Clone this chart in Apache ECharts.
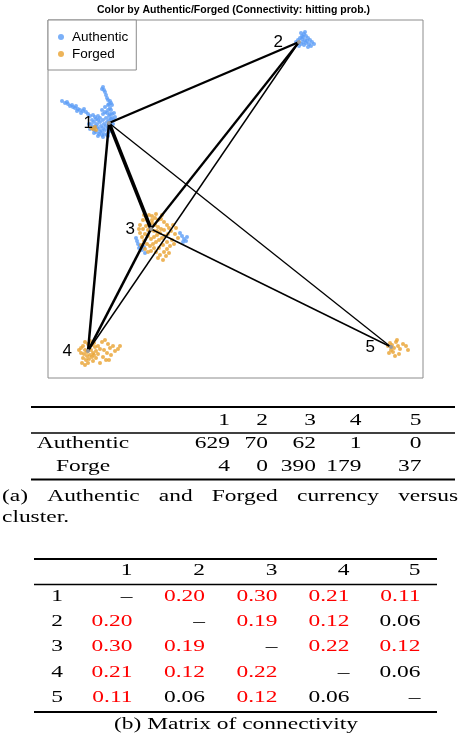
<!DOCTYPE html>
<html>
<head>
<meta charset="utf-8">
<script src="https://cdn.jsdelivr.net/npm/echarts@6/dist/echarts.min.js"></script>
<style>
html,body{margin:0;padding:0;background:#fff;}
#chart{width:461px;height:740px;}
</style>
</head>
<body>
<div id="chart"></div>
<script>
// 数据
var titleText = 'Color by Authentic/Forged (Connectivity: hitting prob.)';
var clusterNames = ['1','2','3','4','5'];
var clusterCenters = [[61,103],[251,22],[103,209],[40,331],[343,327]];
var authenticPts = [
	// cluster 1
	[14,81],[17,83],[20,84],[22,86],[25,87],[27,88],[24,85],[30,89],[32,90],[35,91],[38,92],[40,94],[19,82],[28,86],[33,93],[36,89],[42,96],[29,91],
	[55,67],[56,70],[57,72],[58,75],[59,78],[60,80],[54,69],[62,81],[63,83],[64,85],[61,84],
	[45,95],[47,97],[50,96],[52,98],[55,94],[57,92],[60,90],[62,88],[64,94],[63,90],[66,93],[67,97],[66,100],[65,104],[63,108],[62,111],
	[60,113],[56,114],[54,115],[51,114],[48,112],[46,110],[44,107],[43,104],[44,100],[46,102],[49,104],[52,102],[55,100],[58,98],[61,96],
	[63,99],[64,98],[62,104],[60,108],[57,110],[54,111],[51,109],[49,107],[47,106],[53,106],[56,104],[59,102],[61,100],[58,106],[55,108],
	[52,112],[62,94],[59,93],[50,100],[48,99],[57,87],[60,85],[54,90],[41,104],[42,109],[46,113],[50,116],[55,117],[59,115],[60,116],
	// cluster 2
	[250,20],[252,18],[254,16],[256,14],[258,16],[260,18],[262,20],[264,22],[261,24],[258,23],[255,22],[253,24],[251,26],[254,19],
	[257,20],[259,21],[256,25],[260,27],[263,26],[266,24],[248,22],[253,13],[257,12],[255,17],
	// cluster 3
	[89,221],[90,224],[92,226],[91,228],[94,230],[96,227],[88,218],[97,233],[132,213],[134,216],[136,219],[138,221],[135,222],[139,217]
];
var forgedPts = [
	// cluster 1
	[43,108],[45,109],[47,107],[48,110],
	// cluster 3
	[92,205],[95,200],[98,197],[101,195],[104,196],[107,198],[110,200],[113,199],[116,202],[119,205],[121,208],[123,211],[120,214],
	[117,216],[114,218],[111,220],[108,222],[105,224],[102,226],[99,224],[96,221],[94,217],[92,213],[91,209],[95,209],[98,206],
	[101,204],[104,203],[107,205],[110,207],[113,209],[116,210],[112,213],[109,215],[106,217],[103,219],[100,216],[97,214],[100,210],
	[103,210],[106,211],[109,211],[104,200],[99,200],[96,195],[108,194],[114,195],[125,205],[128,208],[127,214],[130,218],[124,220],
	[119,222],[115,225],[111,228],[108,232],[112,235],[116,232],[119,229],[106,228],[103,231],[122,226],[126,224],[110,238],[115,240],
	[97,229],[100,232],[93,225],[118,236],[121,233],
	// cluster 4
	[31,330],[33,328],[35,326],[37,330],[39,332],[41,328],[43,330],[45,333],[42,335],[39,336],[36,334],[33,333],[35,338],[38,340],
	[41,339],[44,337],[46,335],[48,331],[47,327],[44,325],[40,324],[37,322],[42,321],[46,323],[50,326],[52,329],[50,334],[48,338],
	[45,341],[40,343],[37,345],[54,322],[57,320],[60,324],[56,330],[59,333],[62,328],[65,326],[63,335],[67,331],[70,329],[72,326],
	[55,337],[58,340],[52,343],[61,340],[34,343],
	// cluster 5
	[340,326],[342,323],[344,325],[346,328],[343,330],[345,332],[348,322],[350,326],[352,329],[355,324],[358,326],[360,330],
	[347,336],[351,334],[341,333],[349,320]
];
var tableRows = ['Authentic','Forge'];
var authenticCount = [629,70,62,1,0];
var forgeCount = [4,0,390,179,37];
var connectivity = [
	[null,0.20,0.30,0.21,0.11],
	[0.20,null,0.19,0.12,0.06],
	[0.30,0.19,null,0.22,0.12],
	[0.21,0.12,0.22,null,0.06],
	[0.11,0.06,0.12,0.06,null]
];
var captionA = ['(a) Authentic and Forged currency versus','cluster.'];
var captionB = '(b) Matrix of connectivity';

// 样式
var serif = '"Liberation Serif", "DejaVu Serif", serif';
var fs = 16.5, sx = 1.42;
var ctx = document.createElement('canvas').getContext('2d');
function textW(s){
	ctx.font = fs + 'px ' + serif;
	return ctx.measureText(s).width * sx;
}
function txt(s, x, y, align, color){
	return {
		type:'text', x:x, y:y, scaleX:sx, silent:true,
		style:{text:s, x:0, y:0, align:align, verticalAlign:'middle', font:fs + 'px ' + serif, fill:color || '#000'}
	};
}
function rule(x1, x2, y, w){
	return {type:'line', silent:true, shape:{x1:x1, y1:y, x2:x2, y2:y}, style:{stroke:'#000', lineWidth:w}};
}

var g = [];
// table (a)
var tA = {x1:31, x2:455, top:407, mid:433, bot:479.5, head:420.5, rows:[443.5,466.5], labelX:83, cols:[230,268,316,361.5,421.5]};
g.push(rule(tA.x1, tA.x2, tA.top, 2), rule(tA.x1, tA.x2, tA.mid, 1.4), rule(tA.x1, tA.x2, tA.bot, 2));
clusterNames.forEach(function(n, i){ g.push(txt(n, tA.cols[i], tA.head, 'right')); });
[authenticCount, forgeCount].forEach(function(arr, r){
	g.push(txt(tableRows[r], tA.labelX, tA.rows[r], 'center'));
	arr.forEach(function(v, i){ g.push(txt(String(v), tA.cols[i], tA.rows[r], 'right')); });
});
// caption (a), justified first line
var words = captionA[0].split(' ');
var ws = words.map(textW);
var total = ws.reduce(function(a, b){ return a + b; }, 0);
var gap = (458 - 2 - total) / (words.length - 1);
var cx = 2;
words.forEach(function(w, i){ g.push(txt(w, cx, 497, 'left')); cx += ws[i] + gap; });
g.push(txt(captionA[1], 2, 518, 'left'));

// table (b)
var tB = {x1:34, x2:437, top:559, mid:584.5, bot:712, head:571, rows:[597,622,647,672.5,697.5], labelX:57, cols:[132.5,205,277.5,349.5,420.5]};
g.push(rule(tB.x1, tB.x2, tB.top, 2), rule(tB.x1, tB.x2, tB.mid, 1.4), rule(tB.x1, tB.x2, tB.bot, 2));
clusterNames.forEach(function(n, i){ g.push(txt(n, tB.cols[i], tB.head, 'right')); });
connectivity.forEach(function(row, r){
	g.push(txt(clusterNames[r], tB.labelX, tB.rows[r], 'center'));
	row.forEach(function(v, i){
		if(v === null){
			g.push(txt('\u2013', tB.cols[i], tB.rows[r], 'right'));
		}else{
			g.push(txt(v.toFixed(2), tB.cols[i], tB.rows[r], 'right', v > 0.1 ? '#ff0000' : '#000'));
		}
	});
});
g.push(txt(captionB, 236, 724.5, 'center'));

// 连线
var links = [];
for(var i = 0; i < connectivity.length; i++){
	for(var j = i + 1; j < connectivity.length; j++){
		if(connectivity[i][j] > 0.1){
			links.push({source:i, target:j, lineStyle:{width:connectivity[i][j] * 12}});
		}
	}
}

var chart = echarts.init(document.getElementById('chart'));
var option = {
	animation:false,
	backgroundColor:'#fff',
	title:{
		text:titleText, left:97, top:5, padding:0,
		textStyle:{fontFamily:'"Liberation Sans", Arial, sans-serif', fontSize:10.5, fontWeight:'bold', color:'#000'}
	},
	grid:{left:48, top:20, width:375, height:358, show:true, borderColor:'#8c8c8c', borderWidth:1, backgroundColor:'#fff'},
	xAxis:{type:'value', min:0, max:375, show:false},
	yAxis:{type:'value', min:0, max:358, inverse:true, show:false},
	legend:{
		data:['Authentic','Forged'], orient:'vertical', left:48, top:20,
		icon:'circle', itemWidth:6, itemHeight:6, itemGap:3,
		padding:[10,8,9,10], borderColor:'#8c8c8c', borderWidth:1, backgroundColor:'#fff',
		textStyle:{fontSize:13.5, fontFamily:'"Liberation Sans", Arial, sans-serif', color:'#000', padding:[0,0,0,3]}
	},
	graphic:{elements:g},
	series:[
		{name:'Authentic', type:'scatter', data:authenticPts, symbolSize:4, itemStyle:{color:'#5a9cf6'}, z:2, silent:true},
		{name:'Forged', type:'scatter', data:forgedPts, symbolSize:4, itemStyle:{color:'#e9a12f'}, z:3, silent:true},
		{
			type:'graph', coordinateSystem:'cartesian2d', layout:'none', z:5, silent:true,
			symbolSize:4, itemStyle:{color:'#9a9a9a'},
			label:{show:true, position:'left', distance:14, fontSize:17, color:'#000', fontFamily:'"Liberation Sans", Arial, sans-serif', formatter:'{b}'},
			lineStyle:{color:'#000', opacity:1, curveness:0},
			data:clusterCenters.map(function(c, i){ return {name:clusterNames[i], value:c}; }),
			links:links
		}
	]
};
chart.setOption(option);
</script>
</body>
</html>
